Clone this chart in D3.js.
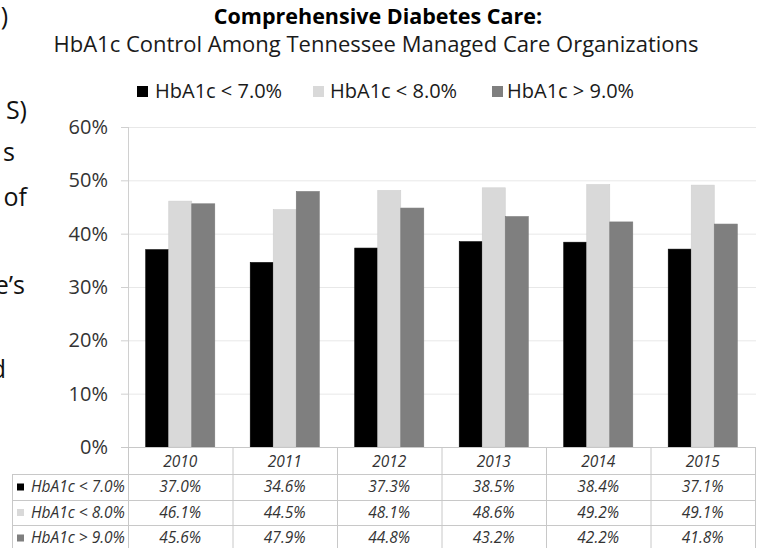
<!DOCTYPE html>
<html>
<head>
<meta charset="utf-8">
<script src="https://cdn.jsdelivr.net/npm/d3@7/dist/d3.min.js"></script>
<style>
  html, body { margin: 0; padding: 0; background: #fff; }
  svg { display: block; font-family: "Open Sans", sans-serif; }
</style>
</head>
<body>
<svg id="chart" width="765" height="548"></svg>
<script>
// ---- data ----
const years = ["2010", "2011", "2012", "2013", "2014", "2015"];
const seriesNames = ["HbA1c < 7.0%", "HbA1c < 8.0%", "HbA1c > 9.0%"];
const seriesColors = ["#000000", "#d9d9d9", "#7f7f7f"];
const below7 = [37.0, 34.6, 37.3, 38.5, 38.4, 37.1];
const below8 = [46.1, 44.5, 48.1, 48.6, 49.2, 49.1];
const above9 = [45.6, 47.9, 44.8, 43.2, 42.2, 41.8];
const yTicks = [0, 10, 20, 30, 40, 50, 60];
const titleText = "Comprehensive Diabetes Care:";
const subtitleText = "HbA1c Control Among Tennessee Managed Care Organizations";
// clipped fragments of neighbouring page text at the left edge
const sideFragments = [")", "S)", "s", "of", "e\u2019s", "d"];
const sideFragmentY = [16, 110, 152, 197, 285, 369];
const sideFragmentX = [8, 27, 15, 27, 25, 6];

const values = [below7, below8, above9];

const svg = d3.select("#chart");

// ---- scales ----
const plotLeft = 128, plotRight = 755, plotTop = 127, plotBottom = 447;
const x0 = d3.scaleBand().domain(years).range([plotLeft, plotRight]).paddingInner(0).paddingOuter(0);
const x1 = d3.scaleBand().domain(seriesNames).range([0, x0.bandwidth()]).paddingInner(0).paddingOuter(0.77);
const y = d3.scaleLinear().domain([0, 60]).range([plotBottom, plotTop]);

// ---- side fragments ----
svg.append("g").selectAll("text").data(sideFragments).join("text")
  .attr("x", (d, i) => sideFragmentX[i])
  .attr("y", (d, i) => sideFragmentY[i])
  .attr("dy", "0.35em")
  .attr("text-anchor", "end")
  .attr("font-size", 25)
  .attr("fill", "#111")
  .text(d => d);

// ---- titles ----
svg.append("text").attr("x", 378).attr("y", 24)
  .attr("text-anchor", "middle").attr("font-weight", "bold").attr("font-size", 21.5)
  .attr("fill", "#000").text(titleText);
svg.append("text").attr("x", 376).attr("y", 52)
  .attr("text-anchor", "middle").attr("font-size", 22)
  .attr("fill", "#1a1a1a").text(subtitleText);

// ---- legend ----
const legendMarkX = [137, 313, 492];
const legendTextX = [155, 330, 507];
const lg = svg.append("g").selectAll("g").data(seriesNames).join("g");
lg.append("rect").attr("x", (d, i) => legendMarkX[i]).attr("y", 86)
  .attr("width", 11).attr("height", 11)
  .attr("fill", (d, i) => seriesColors[i]);
lg.append("text").attr("x", (d, i) => legendTextX[i]).attr("y", 91).attr("dy", "0.35em")
  .attr("font-size", 20).attr("fill", "#1a1a1a").text(d => d);

// ---- gridlines & y axis ----
const yAxis = d3.axisLeft(y).tickValues(yTicks).tickFormat(d => d + "%")
  .tickSize(-(plotRight - plotLeft + 1)).tickPadding(20);
const gy = svg.append("g").attr("transform", `translate(${plotLeft},0)`).call(yAxis);
gy.select(".domain").remove();
gy.selectAll(".tick line").attr("stroke", "#e8e8e8").attr("stroke-width", 1);
gy.selectAll(".tick text").attr("font-size", 20).attr("fill", "#333")
  .attr("font-family", "Open Sans");
gy.selectAll(".tick").append("line").attr("x1", -7).attr("x2", 0)
  .attr("stroke", "#d0d0d0");
svg.append("line").attr("x1", plotLeft + 0.5).attr("x2", plotLeft + 0.5)
  .attr("y1", plotTop).attr("y2", plotBottom).attr("stroke", "#d0d0d0");

// ---- bars ----
const groups = svg.append("g").selectAll("g").data(years).join("g")
  .attr("transform", d => `translate(${x0(d)},0)`);
groups.selectAll("rect").data((d, i) => seriesNames.map((s, k) => ({ s, k, v: values[k][i] })))
  .join("rect")
  .attr("x", d => x1(d.s))
  .attr("width", x1.bandwidth())
  .attr("y", d => y(d.v))
  .attr("height", d => y(0) - y(d.v))
  .attr("fill", d => seriesColors[d.k])
  .attr("stroke", d => d.k === 1 ? "#cfcfcf" : (d.k === 2 ? "#787878" : "#000"))
  .attr("stroke-width", 0.6);

// ---- data table ----
const rowEdges = [447, 474, 500, 525, 551];
const lineColor = "#c8c8c8";
const tbl = svg.append("g");
rowEdges.forEach((ry, i) => {
  tbl.append("line").attr("x1", i === 0 ? plotLeft - 7 : 12).attr("x2", plotRight)
    .attr("y1", ry + 0.5).attr("y2", ry + 0.5).attr("stroke", lineColor);
});
[plotLeft].concat(years.map(d => x0(d) + x0.bandwidth())).forEach(vx => {
  tbl.append("line").attr("x1", vx + 0.5).attr("x2", vx + 0.5)
    .attr("y1", rowEdges[0]).attr("y2", 548).attr("stroke", lineColor);
});
tbl.append("line").attr("x1", 12.5).attr("x2", 12.5)
  .attr("y1", rowEdges[1]).attr("y2", 548).attr("stroke", lineColor);

const tableFont = 15.5;
tbl.selectAll("text.year").data(years).join("text").attr("class", "year")
  .attr("x", d => x0(d) + x0.bandwidth() / 2)
  .attr("y", (rowEdges[0] + rowEdges[1]) / 2 + 1).attr("dy", "0.35em")
  .attr("text-anchor", "middle").attr("font-size", tableFont).attr("font-style", "italic")
  .attr("fill", "#333").text(d => d);

seriesNames.forEach((s, k) => {
  const cy = (rowEdges[k + 1] + rowEdges[k + 2]) / 2;
  tbl.append("rect").attr("x", 17).attr("y", cy - 3.5).attr("width", 7).attr("height", 7)
    .attr("fill", seriesColors[k]);
  tbl.append("text").attr("x", 31).attr("y", cy).attr("dy", "0.35em")
    .attr("font-size", tableFont).attr("font-style", "italic").attr("fill", "#333").text(s);
  tbl.selectAll(null).data(values[k]).join("text")
    .attr("x", (d, i) => x0(years[i]) + x0.bandwidth() / 2)
    .attr("y", cy).attr("dy", "0.35em").attr("text-anchor", "middle")
    .attr("font-size", tableFont).attr("font-style", "italic").attr("fill", "#333")
    .text(d => d.toFixed(1) + "%");
});
</script>
</body>
</html>
